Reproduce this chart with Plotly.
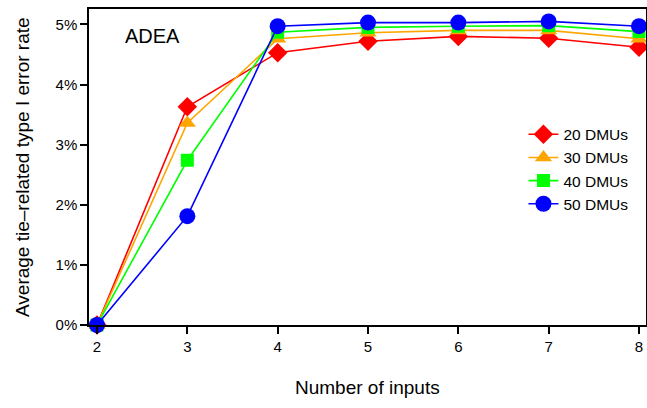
import plotly.graph_objects as go

inputs = [2, 3, 4, 5, 6, 7, 8]
dmu20 = [0.0, 3.63, 4.53, 4.72, 4.80, 4.77, 4.62]
dmu30 = [0.0, 3.36, 4.76, 4.86, 4.90, 4.90, 4.76]
dmu40 = [0.0, 2.74, 4.87, 4.95, 4.97, 4.98, 4.88]
dmu50 = [0.0, 1.81, 4.97, 5.03, 5.03, 5.05, 4.97]
series_names = ["20 DMUs", "30 DMUs", "40 DMUs", "50 DMUs"]
y_ticks = [0, 1, 2, 3, 4, 5]
y_tick_labels = ["0%", "1%", "2%", "3%", "4%", "5%"]

colors = ["#FF0000", "#FFA500", "#00FF00", "#0000FF"]
symbols = ["diamond", "triangle-up", "square", "circle"]
sizes = [15, 15, 13, 16]

fig = go.Figure()
for name, vals, c, s, sz in zip(series_names, [dmu20, dmu30, dmu40, dmu50], colors, symbols, sizes):
    fig.add_trace(go.Scatter(
        x=inputs, y=vals, name=name, mode="lines+markers",
        line=dict(color=c, width=1.6),
        marker=dict(color=c, symbol=s, size=sz, line=dict(width=0)),
        cliponaxis=False,
    ))

font_family = "Liberation Sans, Arial, sans-serif"
L, R, T, B = 89, 646, 9, 325
fig.update_layout(
    width=647, height=408,
    margin=dict(l=L, r=647 - R, t=T, b=408 - B),
    paper_bgcolor="white", plot_bgcolor="white",
    font=dict(family=font_family, color="black", size=15),
    showlegend=True,
    legend=dict(
        x=0.78, y=0.656, xanchor="left", yanchor="top",
        bgcolor="rgba(0,0,0,0)", font=dict(size=15.5, family=font_family),
        itemwidth=30, tracegroupgap=0,
    ),
    xaxis=dict(
        range=[1.9114, 8.0775], tickmode="array", tickvals=inputs,
        ticktext=[str(v) for v in inputs],
        showgrid=False, zeroline=False, automargin=False,
        showline=True, linecolor="black", linewidth=1.5, mirror=True,
        ticks="outside", ticklen=7, tickwidth=1.5, tickcolor="black",
        tickfont=dict(size=15),
    ),
    yaxis=dict(
        range=[0, 5.256], tickmode="array", tickvals=y_ticks, ticktext=y_tick_labels,
        showgrid=False, zeroline=False, automargin=False,
        showline=True, linecolor="black", linewidth=1.5, mirror=True,
        ticks="outside", ticklen=7, tickwidth=1.5, tickcolor="black",
        tickfont=dict(size=15),
    ),
    annotations=[
        dict(text="ADEA", x=(152 - L) / (R - L), y=(B - 36) / (B - T),
             xref="paper", yref="paper",
             showarrow=False, font=dict(size=20, family=font_family),
             xanchor="center", yanchor="middle"),
        dict(text="Number of inputs", x=(367 - L) / (R - L), y=(B - 387) / (B - T),
             xref="paper", yref="paper",
             showarrow=False, font=dict(size=19, family=font_family),
             xanchor="center", yanchor="middle"),
        dict(text="Average tie\u2013related type I error rate",
             x=(22 - L) / (R - L), y=(B - 167) / (B - T),
             xref="paper", yref="paper", textangle=-90,
             showarrow=False, font=dict(size=19, family=font_family),
             xanchor="center", yanchor="middle"),
    ],
)

fig.write_html("out.html",
               config={"displayModeBar": False},
               post_script="document.body.style.margin='0';document.body.style.overflow='hidden';")
